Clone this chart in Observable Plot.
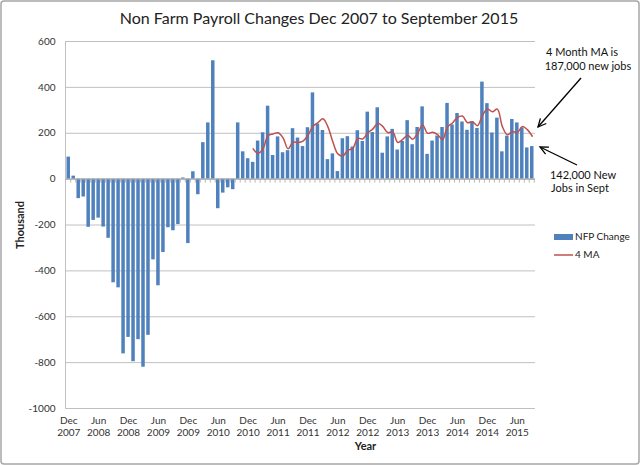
<!DOCTYPE html>
<html><head><meta charset="utf-8">
<script src="https://cdn.jsdelivr.net/npm/d3@7"></script>
<script src="https://cdn.jsdelivr.net/npm/@observablehq/plot@0.6"></script>
<style>body{margin:0;background:#fff} svg{display:block}</style>
</head><body><div id="chart"></div>
<script>
// ---- data ----
const firstMonth = [2007, 11]; // Dec 2007 (UTC month index)
const monthCount = 94;         // Dec 2007 .. Sep 2015
const nfpChange = [
  96,
  13, -85, -78, -210, -180, -170, -209, -258, -452, -474, -762, -690,
  -796, -700, -820, -681, -352, -465, -320, -212, -225, -198, 5, -281,
  32, -68, 159, 245, 516, -129, -61, -38, -46, 245, 119, 89,
  73, 166, 202, 318, 103, 184, 115, 124, 220, 179, 142, 224,
  376, 240, 212, 85, 110, 33, 176, 185, 140, 211, 164, 292,
  203, 311, 113, 184, 217, 127, 164, 255, 150, 225, 315, 108,
  166, 188, 225, 330, 236, 286, 249, 213, 250, 221, 423, 329,
  201, 266, 119, 187, 260, 245, 223, 136, 142
];
const ma4StartIndex = 37; // Jan 2011
const ma4 = [
  132, 112, 133, 190, 197, 202, 180, 132, 161, 160, 166, 191,
  230, 246, 263, 228, 162, 110, 101, 126, 134, 178, 175, 202,
  218, 243, 230, 203, 206, 160, 173, 191, 174, 199, 236, 200,
  204, 194, 172, 227, 245, 269, 275, 246, 250, 233, 277, 306,
  294, 305, 229, 193, 208, 203, 229, 216, 187
];
const yTicks = [-1000, -800, -600, -400, -200, 0, 200, 400, 600];
const labelMonths = ["Dec", "Jun"];
const titleText = "Non Farm Payroll Changes Dec 2007 to September 2015";
const seriesNames = ["NFP Change", "4 MA"];
const notes = [["4 Month MA is", "187,000 new jobs"], ["142,000 New", "Jobs in Sept"]];

// ---- build ----
const start = new Date(Date.UTC(firstMonth[0], firstMonth[1], 1));
const dates = d3.utcMonth.range(start, d3.utcMonth.offset(start, monthCount));
const keyOf = d3.utcFormat("%Y-%m");
const keys = dates.map(keyOf);
const monName = d3.utcFormat("%b"), yrName = d3.utcFormat("%Y");
const labelOf = new Map(dates.map(d => [keyOf(d), monName(d) + "\n" + yrName(d)]));
const tickKeys = dates.filter(d => labelMonths.includes(monName(d))).map(keyOf);

const bars = keys.map((k, i) => ({month: k, value: nfpChange[i]}));
const maData = ma4.map((v, i) => ({month: keys[ma4StartIndex + i], value: v}));

const FONT = "Lato, 'Open Sans', sans-serif";
const BLUE = "#4f81bd", RED = "#c0504d", GRID = "#c0c0c0";

const chart = Plot.plot({
  width: 640, height: 466,
  marginLeft: 65, marginRight: 105, marginTop: 41, marginBottom: 58,
  style: {fontFamily: FONT, fontSize: "10px", color: "#333", background: "#fff"},
  x: {domain: keys, padding: 0.3, label: null},
  y: {domain: [-1000, 600], label: null},
  marks: [
    Plot.gridY(yTicks, {stroke: GRID, strokeOpacity: 1}),
    Plot.frame({anchor: "left", stroke: GRID}),
    Plot.barY(bars, {x: "month", y: "value", fill: BLUE}),
    Plot.ruleY([0], {stroke: "#a6a6a6"}),
    Plot.line(maData, {x: "month", y: "value", stroke: RED, strokeWidth: 1.5, curve: "catmull-rom"}),
    Plot.axisY(yTicks, {tickSize: 0, tickPadding: 10, tickFormat: d => String(d), fontSize: 10, fill: "#333"}),
    Plot.axisX(tickKeys, {tickSize: 0, tickPadding: 7, tickFormat: k => labelOf.get(k), fontSize: 10, lineHeight: 1.2, fill: "#333"})
  ]
});
document.getElementById("chart").appendChild(chart);

// ---- decorations (ticks on zero axis, titles, legend, notes) ----
const svg = d3.select(chart);
const sx = chart.scale("x"), sy = chart.scale("y");
const y0 = sy.apply(0);
const g = svg.append("g");
keys.forEach(k => {
  const xx = sx.apply(k) + sx.bandwidth + (sx.step - sx.bandwidth) / 2;
  g.append("line").attr("x1", xx).attr("x2", xx).attr("y1", y0).attr("y2", y0 + 4)
    .attr("stroke", "#a6a6a6").attr("stroke-width", 0.8);
});
svg.append("rect").attr("x", 1).attr("y", 1).attr("width", 638).attr("height", 463)
  .attr("rx", 3).attr("fill", "none").attr("stroke", "#a6a6a6").attr("stroke-width", 1.5);

const txt = (x, y, s, o = {}) => svg.append("text").attr("x", x).attr("y", y)
  .attr("font-family", FONT).attr("font-size", o.size || 11).attr("fill", o.fill || "#222")
  .attr("font-weight", o.weight || "normal").attr("text-anchor", o.anchor || "middle")
  .attr("dominant-baseline", "middle").attr("transform", o.transform || null).text(s);

txt(319, 20, titleText, {size: 16});
txt(731 / 2, 447, "Year", {size: 11, weight: "bold"});
txt(0, 0, "Thousand", {size: 11, weight: "bold", transform: "translate(21,225) rotate(-90)"});

// legend
svg.append("rect").attr("x", 554).attr("y", 234).attr("width", 19).attr("height", 6).attr("fill", BLUE);
txt(575, 237, seriesNames[0], {size: 10, anchor: "start"});
svg.append("line").attr("x1", 554).attr("x2", 573).attr("y1", 255).attr("y2", 255).attr("stroke", RED).attr("stroke-width", 1.5);
txt(575, 255, seriesNames[1], {size: 10, anchor: "start"});

// notes
txt(582, 53, notes[0][0], {size: 11, fill: "#111"});
txt(588, 67, notes[0][1], {size: 11, fill: "#111"});
txt(583, 176, notes[1][0], {size: 11, fill: "#111"});
txt(580, 189, notes[1][1], {size: 11, fill: "#111"});
const arrow = (x1, y1, x2, y2) => {
  svg.append("line").attr("x1", x1).attr("y1", y1).attr("x2", x2).attr("y2", y2)
    .attr("stroke", "#000").attr("stroke-width", 1.3);
  const a = Math.atan2(y2 - y1, x2 - x1), L = 9, w = 0.45;
  const p = (t) => [x2 - L * Math.cos(a + t), y2 - L * Math.sin(a + t)];
  const [ax, ay] = p(w), [bx, by] = p(-w);
  svg.append("path").attr("d", `M${ax},${ay}L${x2},${y2}L${bx},${by}`)
    .attr("fill", "none").attr("stroke", "#000").attr("stroke-width", 1.3);
};
arrow(581, 78, 538, 127);
arrow(577, 165, 540, 147);
</script></body></html>
